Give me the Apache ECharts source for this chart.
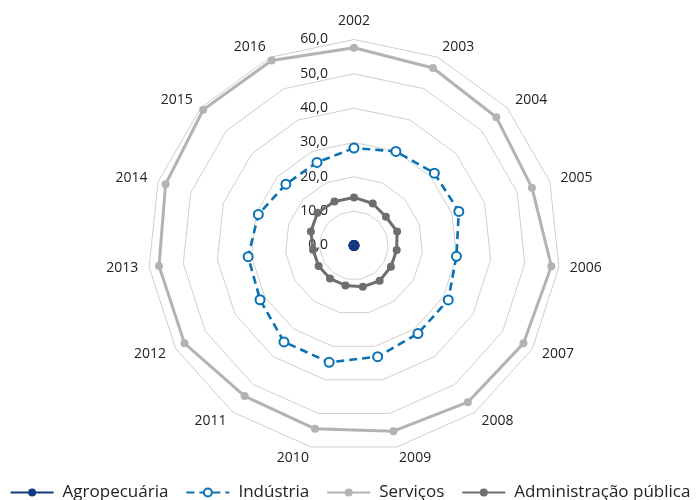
<!DOCTYPE html>
<html>
<head>
<meta charset="utf-8">
<script src="https://cdn.jsdelivr.net/npm/echarts@6/dist/echarts.min.js"></script>
<style>
html,body{margin:0;padding:0;background:#fff;}
#c{width:700px;height:500px;}
</style>
</head>
<body>
<div id="c"></div>
<script>
const years = ['2002','2003','2004','2005','2006','2007','2008','2009','2010','2011','2012','2013','2014','2015','2016'];
const agropecuaria = [0.3, 0.3, 0.3, 0.3, 0.3, 0.3, 0.3, 0.3, 0.3, 0.3, 0.3, 0.3, 0.3, 0.3, 0.3];
const industria = [28.4, 30.0, 31.5, 32.1, 30.0, 31.7, 31.7, 33.1, 34.8, 34.7, 31.6, 31.0, 29.3, 26.7, 26.5];
const servicos = [57.6, 56.6, 55.8, 54.5, 57.8, 57.0, 56.4, 55.3, 54.6, 54.2, 57.0, 57.1, 57.7, 59.1, 59.0];
const administracao = [14.0, 13.4, 12.5, 13.2, 12.5, 12.4, 12.7, 12.3, 11.9, 11.9, 11.9, 12.0, 13.2, 14.3, 14.0];
const seriesNames = ['Agropecuária', 'Indústria', 'Serviços', 'Administração pública'];
const axisMax = 60;

// ECharts radar runs counter-clockwise; reorder so the years run clockwise from the top.
const order = [0].concat(years.map((_, i) => years.length - 1 - i).slice(0, years.length - 1));
const reorder = arr => order.map(i => arr[i]);

const font = 'Open Sans';
const textColor = '#222';
const styles = {
  'Agropecuária': { color: '#123a80', symbol: 'circle', size: 9, width: 2.5, type: 'solid' },
  'Indústria': { color: '#0a72b4', symbol: 'emptyCircle', size: 9, width: 2.6, type: [8, 5] },
  'Serviços': { color: '#b3b3b3', symbol: 'circle', size: 8, width: 3, type: 'solid' },
  'Administração pública': { color: '#6e6e6e', symbol: 'circle', size: 8, width: 3, type: 'solid' }
};
const values = {
  'Agropecuária': agropecuaria,
  'Indústria': industria,
  'Serviços': servicos,
  'Administração pública': administracao
};

const chart = echarts.init(document.getElementById('c'));
const indicator = reorder(years).map((y, i) => {
  const o = { name: y, min: 0, max: axisMax };
  if (i === 0) o.axisLabel = { show: true };
  return o;
});

const drawOrder = ['Serviços', 'Indústria', 'Administração pública', 'Agropecuária'];
const radarData = drawOrder.map(n => {
  const s = styles[n];
  return {
    name: n,
    value: reorder(values[n]),
    symbol: s.symbol,
    symbolSize: s.size,
    lineStyle: { color: s.color, width: s.width, type: s.type },
    itemStyle: { color: s.color, borderColor: s.color, borderWidth: s.symbol === 'emptyCircle' ? 1.2 : 0 }
  };
});

// Legend-only line series (no data) so the legend shows line + marker icons.
const legendSeries = seriesNames.map(n => {
  const s = styles[n];
  return {
    type: 'line',
    name: n,
    data: [],
    symbol: s.symbol,
    symbolSize: s.size,
    lineStyle: { color: s.color, width: s.width, type: s.type },
    itemStyle: { color: s.color, borderColor: s.color, borderWidth: s.symbol === 'emptyCircle' ? 1.2 : 0 }
  };
});

chart.setOption({
  animation: false,
  textStyle: { fontFamily: font },
  grid: { show: false, left: 0, top: 0, width: 1, height: 1 },
  xAxis: { show: false, type: 'value' },
  yAxis: { show: false, type: 'value' },
  legend: {
    data: seriesNames,
    left: 'center',
    top: 479,
    itemWidth: 43,
    itemHeight: 10,
    itemGap: 17,
    textStyle: { fontFamily: font, fontSize: 17, color: textColor, padding: [0, 0, 0, 4] }
  },
  radar: {
    center: [354, 245.5],
    radius: 206,
    startAngle: 90,
    splitNumber: 6,
    shape: 'polygon',
    indicator: indicator,
    axisName: { color: textColor, fontFamily: font, fontSize: 14 },
    nameGap: 11,
    axisLine: { show: false },
    axisTick: { show: false },
    splitArea: { show: false },
    splitLine: { lineStyle: { color: '#cfcfcf', width: 1 } },
    axisLabel: {
      show: false,
      margin: 26,
      color: textColor,
      fontFamily: font,
      fontSize: 14,
      padding: [5, 0, 0, 0],
      formatter: v => v.toFixed(1).replace('.', ',')
    }
  },
  series: [{
    type: 'radar',
    z: 2,
    data: radarData
  }].concat(legendSeries)
});
</script>
</body>
</html>
